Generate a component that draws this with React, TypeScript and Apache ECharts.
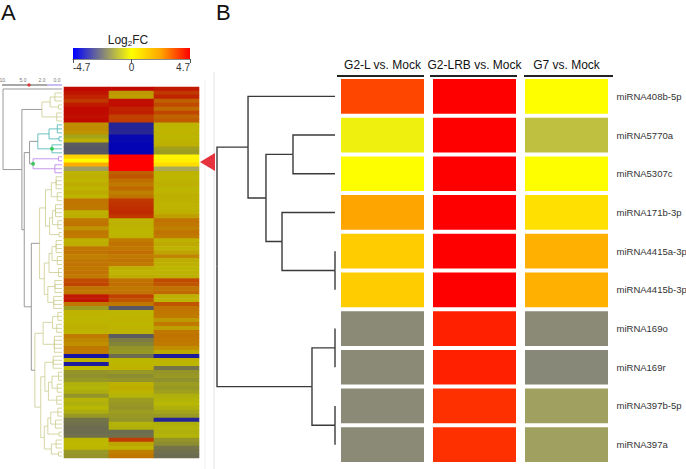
import React, { useEffect, useRef } from "react";
import * as echarts from "echarts";

// ---------------- Panel A data (Log2FC, 3 comparisons, rows top->bottom) ----------------
const A_COLUMNS = ["G2-L", "G2-LRB", "G7"];
const A_COL1 = [
  4.5, 4.3, 4.0, 3.6, 4.2, 4.5, 4.5, 4.4, 4.5, 1.5,
  1.6, 1.4, -0.6, 0.4, -2.4, -2.5, -2.5, 1.2, 0.1, 2.2,
  -1.8, 0.3, 0.4, 0.3, 0.5, 0.3, 0.6, 0.3, 2.4, 2.3,
  2.3, 0.4, 0.5, 2.3, 2.4, 1.4, 2.3, 2.2, 0.4, 0.5,
  2.3, 2.4, 2.0, 2.3, 2.4, 2.3, 2.4, 2.2, 3.2, 3.3,
  2.4, 2.3, 4.2, 4.3, 2.3, -0.8, 0.3, 0.3, 0.2, 0.3,
  0.4, 0.3, 2.2, 1.8, 1.5, 2.3, 2.2, -4.2, 0.3, -4.0,
  0.1, -1.0, -1.1, -0.9, -0.3, -0.2, -0.4, -1.0, -0.2, -0.3,
  -0.1, -0.4, -0.9, -1.8, -1.9, -2.0, -2.0, -1.9, 0.2, 0.1,
  0.2, -0.9, -1.0,
];
const A_COL2 = [
  4.5, 1.2, 1.0, 4.4, 4.4, 4.0, 4.1, 3.4, 3.5, -3.8,
  -3.8, -3.7, -4.5, -4.5, -4.6, -4.6, -4.6, 4.7, 4.7, 4.7,
  4.7, 2.8, 3.0, 2.5, 2.2, 2.6, 2.0, 2.4, 3.6, 3.7,
  3.8, 3.9, 3.6, 0.3, 0.4, 0.3, 0.2, 0.3, 2.2, 2.4,
  2.3, 2.5, 2.2, 2.4, 2.2, 0.4, 0.3, 0.5, 2.4, 2.5,
  2.3, 2.4, 3.4, 3.0, 2.3, -2.5, 0.2, 0.3, 0.3, 0.2,
  0.3, 0.3, -2.4, -1.6, -1.4, -1.0, -0.9, -2.0, 0.2, 0.2,
  0.3, -0.9, -1.2, -1.0, 0.4, 0.5, 0.3, -0.2, -0.8, -0.9,
  -1.0, -0.8, -0.9, -1.0, -0.2, -0.3, -2.0, -1.9, 3.5, 0.8,
  0.3, 2.0, 2.3,
];
const A_COL3 = [
  4.2, 3.6, 4.0, 2.8, 3.2, 2.6, 3.3, 2.7, 2.9, 0.3,
  0.2, 0.3, 0.2, 0.3, 0.4, -0.7, -0.8, 0.3, 0.4, 0.9,
  -1.6, 0.3, 0.2, 0.3, 0.4, 0.2, 0.3, 0.4, 0.4, 0.3,
  0.3, 0.4, 1.0, 2.4, 2.3, 2.0, 2.4, 2.2, 0.4, 0.6,
  0.3, 0.8, 1.8, 0.5, 0.4, 0.2, 0.3, 0.4, 3.2, 3.0,
  2.4, 2.6, 0.4, 0.3, 3.0, 2.4, 2.3, 2.2, 1.2, 2.2,
  1.0, 2.3, 2.4, 2.3, 2.2, 1.5, 0.6, -4.0, 0.3, 0.2,
  -1.8, -1.0, -0.9, -1.1, -0.8, -0.9, -0.7, -0.3, -0.2, -0.1,
  -0.3, -0.6, -0.9, -3.8, -0.3, -0.2, -0.3, -0.2, -1.0, -1.2,
  -1.8, -1.9, -2.0,
];
const A_HIGHLIGHT_ROWS = [17, 18, 19, 20];

// Panel A dendrogram: [node, children (row index or node), height, colour key]
const A_TREE: [string, (string | number)[], number, string][] = [
  ["g0", [1, 2, 3], 1.2, "k"],
  ["g1", [4, 5], 0.6, "k"],
  ["g2", [6, 7, 8], 0.9, "k"],
  ["C0a", ["g0", "g1"], 2.0, "k"],
  ["C0", ["C0a", "g2"], 3.4, "k"],
  ["t0", [9, 10, 11], 0.8, "t"],
  ["t1", [12, 13], 0.5, "t"],
  ["t2", [14, 15, 16], 1.7, "t"],
  ["t01", ["t0", "t1"], 2.2, "t"],
  ["C1", ["t01", "t2"], 4.1, "t"],
  ["p0", [17, 18], 0.6, "p"],
  ["p1", [19, 20, 21], 1.2, "p"],
  ["C2", ["p0", "p1"], 4.9, "p"],
  ["Ntp", ["C1", "C2"], 5.5, "g"],
  ["k0", [22, 23, 24, 25], 1.0, "k"],
  ["k1", [26, 27, 28], 0.8, "k"],
  ["k2", [29, 30, 31, 32], 1.1, "k"],
  ["k3", [33, 34, 35], 0.7, "k"],
  ["k4", [36, 37], 0.5, "k"],
  ["k5", [38, 39, 40, 41], 1.0, "k"],
  ["k6", [42, 43, 44], 0.8, "k"],
  ["k7", [45, 46, 47], 0.6, "k"],
  ["k8", [48, 49, 50, 51], 1.2, "k"],
  ["k9", [52, 53, 54, 55], 1.4, "k"],
  ["k01", ["k0", "k1"], 1.8, "k"],
  ["k23", ["k2", "k3"], 1.6, "k"],
  ["k234", ["k23", "k4"], 2.1, "k"],
  ["C3a", ["k01", "k234"], 2.8, "k"],
  ["k56", ["k5", "k6"], 1.7, "k"],
  ["k567", ["k56", "k7"], 2.2, "k"],
  ["k89", ["k8", "k9"], 2.4, "k"],
  ["C3b", ["k567", "k89"], 3.0, "k"],
  ["C3", ["C3a", "C3b"], 3.8, "k"],
  ["m0", [56, 57, 58], 0.7, "k"],
  ["m1", [59, 60, 61], 0.9, "k"],
  ["m2", [62, 63, 64, 65, 66], 1.3, "k"],
  ["m3", [67, 68, 69, 70], 1.5, "k"],
  ["m4", [71, 72, 73], 0.6, "k"],
  ["m5", [74, 75, 76], 0.8, "k"],
  ["m6", [77, 78, 79], 0.9, "k"],
  ["m7", [80, 81, 82], 0.7, "k"],
  ["m8", [83, 84, 85], 1.1, "k"],
  ["m9", [86, 87], 0.5, "k"],
  ["m10", [88, 89, 90], 1.0, "k"],
  ["m11", [91, 92], 0.6, "k"],
  ["m01", ["m0", "m1"], 1.6, "k"],
  ["C4a", ["m01", "m2"], 3.2, "k"],
  ["m45", ["m4", "m5"], 1.7, "k"],
  ["m456", ["m45", "m6"], 2.3, "k"],
  ["m3456", ["m3", "m456"], 2.9, "k"],
  ["m78", ["m7", "m8"], 1.9, "k"],
  ["m789", ["m78", "m9"], 2.4, "k"],
  ["m1011", ["m10", "m11"], 1.8, "k"],
  ["m7_11", ["m789", "m1011"], 3.0, "k"],
  ["C4b", ["m3456", "m7_11"], 3.6, "k"],
  ["C4", ["C4a", "C4b"], 4.6, "k"],
  ["Nbig", ["C3", "C4"], 5.2, "g"],
  ["N24", ["Ntp", "Nbig"], 6.4, "g"],
  ["N22", ["C0", "N24"], 6.8, "g"],
  ["root", [0, "N22"], 10, "g"],
];
const A_TREE_MARKS = ["C2", "t2"];
const A_SCALE_LABELS = ["10.", "5.0", "2.0", "0.0"];

// ---------------- Panel B data ----------------
const B_COLUMNS = ["G2-L vs. Mock", "G2-LRB vs. Mock", "G7 vs. Mock"];
const B_MIRNAS = [
  "miRNA408b-5p", "miRNA5770a", "miRNA5307c", "miRNA171b-3p", "miRNA4415a-3p",
  "miRNA4415b-3p", "miRNA169o", "miRNA169r", "miRNA397b-5p", "miRNA397a",
];
const B_G2L = [3.7, -0.28, 0.02, 2.35, 1.33, 1.33, -2.16, -2.16, -2.16, -2.16];
const B_G2LRB = [4.7, 4.7, 4.7, 4.7, 4.7, 4.7, 4.24, 4.24, 4.02, 4.02];
const B_G7 = [0.02, -1.17, 0.02, 0.8, 2.06, 2.06, -2.16, -2.2, -1.76, -1.76];
const B_TREE: [string, (string | number)[], number, string][] = [
  ["b56", [4, 5], 0, "d"],
  ["b78", [6, 7], 0, "d"],
  ["b910", [8, 9], 0, "d"],
  ["b23", [1, 2], 0.356, "d"],
  ["b4_56", [3, "b56"], 0.449, "d"],
  ["b2_6", ["b23", "b4_56"], 0.585, "d"],
  ["b1_6", [0, "b2_6"], 0.737, "d"],
  ["b7_10", ["b78", "b910"], 0.195, "d"],
  ["root", ["b1_6", "b7_10"], 1, "d"],
];

const LOG2FC_MIN = -4.7;
const LOG2FC_MAX = 4.7;
const BRIGHT = ["#0000ff", "#808080", "#ffff00", "#ffa500", "#ff0000"];
const DIM = ["#0000b8", "#5e5e5e", "#bcbc00", "#c07600", "#c00000"];
const TREE_COLORS: Record<string, string> = {
  k: "#cbcb8e",
  t: "#45b3b3",
  p: "#b67ee8",
  g: "#808080",
  d: "#3a3a3a",
};

const FONT = "'Liberation Sans', Arial, Helvetica, sans-serif";

function buildLinks(tree: [string, (string | number)[], number, string][]) {
  const map = new Map<string, [string, (string | number)[], number, string]>();
  tree.forEach((n) => map.set(n[0], n));
  const nodeY = (name: string): number => {
    const n = map.get(name)!;
    const ys = n[1].map((c) => yOf(c));
    return (Math.min(...ys) + Math.max(...ys)) / 2;
  };
  const yOf = (c: string | number): number => (typeof c === "number" ? c : nodeY(c));
  const hOf = (c: string | number): number => (typeof c === "number" ? 0 : map.get(c)![2]);
  const links: { value: number[]; color: string }[] = [];
  tree.forEach((n) => {
    const yP = nodeY(n[0]);
    n[1].forEach((c) => {
      links.push({ value: [n[2], yOf(c), hOf(c), yP], color: TREE_COLORS[n[3]] });
    });
  });
  return { links, nodePos: (name: string) => [map.get(name)![2], nodeY(name)] };
}

function buildOption() {
  const aRows = A_COL1.map((_, i) => String(i));
  const aCols = [A_COL1, A_COL2, A_COL3];
  const aDim: number[][] = [];
  const aHi: number[][] = [];
  aCols.forEach((col, ci) =>
    col.forEach((v, ri) => {
      (A_HIGHLIGHT_ROWS.includes(ri) ? aHi : aDim).push([ci, ri, v]);
    })
  );
  const bData: number[][] = [];
  [B_G2L, B_G2LRB, B_G7].forEach((col, ci) => col.forEach((v, ri) => bData.push([ci, ri, v])));

  const aTree = buildLinks(A_TREE);
  const bTree = buildLinks(B_TREE);

  const cellRender = (gapX: number, gapY: number) => (params: any, api: any) => {
    const c = api.coord([api.value(0), api.value(1)]);
    const s = api.size([1, 1]);
    const w = s[0] - gapX;
    const h = s[1] - gapY;
    return {
      type: "rect",
      shape: { x: c[0] - w / 2, y: c[1] - h / 2, width: w, height: h },
      style: { fill: api.visual("color") },
    };
  };
  const linkRender = (links: { value: number[]; color: string }[], lw: number) => (params: any, api: any) => {
    const p1 = api.coord([api.value(2), api.value(1)]);
    const p2 = api.coord([api.value(0), api.value(1)]);
    const p3 = api.coord([api.value(0), api.value(3)]);
    return {
      type: "polyline",
      shape: { points: [p1, p2, p3] },
      style: { stroke: links[params.dataIndex].color, lineWidth: lw, fill: "none" },
    };
  };

  const gradStops = BRIGHT.map((c, i) => ({ offset: i / (BRIGHT.length - 1), color: c }));

  const hidden = { show: false };
  const g = (left: number, top: number, width: number, height: number) => ({
    left, top, width, height, containLabel: false, outerBoundsMode: "none",
  });

  return {
    animation: false,
    backgroundColor: "#ffffff",
    textStyle: { fontFamily: FONT },
    grid: [
      g(64, 87, 135, 371), // A heatmap
      g(3, 87, 59, 371), // A dendrogram
      g(73, 48, 117, 11), // colour key
      g(336.5, 77, 276, 387), // B heatmap
      g(217, 77, 118, 387), // B dendrogram
    ],
    xAxis: [
      { gridIndex: 0, type: "category", data: A_COLUMNS, ...hidden },
      { gridIndex: 1, type: "value", min: 0, max: 10, inverse: true, ...hidden },
      {
        gridIndex: 2, type: "value", min: LOG2FC_MIN, max: LOG2FC_MAX, interval: 4.7, position: "bottom",
        axisLine: { show: true, lineStyle: { color: "#8a8a8a", width: 1 } },
        axisTick: { show: true, length: 4, lineStyle: { color: "#555" } },
        splitLine: { show: false },
        axisLabel: {
          fontSize: 10, color: "#333", margin: 3, fontFamily: FONT,
          alignMinLabel: "left", alignMaxLabel: "right", hideOverlap: false,
        },
      },
      {
        gridIndex: 3, type: "category", data: B_COLUMNS, position: "top",
        axisLine: hidden, axisTick: hidden,
        axisLabel: { fontSize: 12, color: "#111", margin: 6, fontFamily: FONT, interval: 0 },
      },
      { gridIndex: 4, type: "value", min: 0, max: 1, inverse: true, ...hidden },
    ],
    yAxis: [
      { gridIndex: 0, type: "category", data: aRows, inverse: true, ...hidden },
      { gridIndex: 1, type: "value", min: -0.5, max: A_COL1.length - 0.5, inverse: true, ...hidden },
      { gridIndex: 2, type: "value", min: 0, max: 1, ...hidden },
      {
        gridIndex: 3, type: "category", data: B_MIRNAS, inverse: true, position: "right",
        axisLine: hidden, axisTick: hidden,
        axisLabel: {
          fontSize: 9.5, color: "#333", margin: 4, fontFamily: FONT, interval: 0,
          overflow: "none", width: 200,
        },
      },
      { gridIndex: 4, type: "value", min: -0.5, max: B_MIRNAS.length - 0.5, inverse: true, ...hidden },
    ],
    visualMap: [
      {
        type: "continuous", show: false, min: LOG2FC_MIN, max: LOG2FC_MAX, dimension: 2,
        seriesIndex: [0], inRange: { color: DIM },
      },
      {
        type: "continuous", show: false, min: LOG2FC_MIN, max: LOG2FC_MAX, dimension: 2,
        seriesIndex: [1, 5], inRange: { color: BRIGHT },
      },
    ],
    series: [
      {
        type: "custom", xAxisIndex: 0, yAxisIndex: 0, data: aDim,
        renderItem: cellRender(-0.6, -0.6),
      },
      {
        type: "custom", xAxisIndex: 0, yAxisIndex: 0, data: aHi, z: 3,
        renderItem: cellRender(-0.6, -0.6),
      },
      {
        type: "custom", xAxisIndex: 1, yAxisIndex: 1,
        data: aTree.links.map((l) => l.value),
        renderItem: linkRender(aTree.links, 0.8),
      },
      {
        type: "scatter", xAxisIndex: 1, yAxisIndex: 1, z: 5,
        symbolSize: 4, itemStyle: { color: "#1ec83c" },
        data: A_TREE_MARKS.map((n) => aTree.nodePos(n)),
      },
      {
        type: "custom", xAxisIndex: 2, yAxisIndex: 2,
        data: [[LOG2FC_MIN, 0, LOG2FC_MAX, 1]],
        renderItem: (params: any, api: any) => {
          const p0 = api.coord([api.value(0), api.value(1)]);
          const p1 = api.coord([api.value(2), api.value(3)]);
          return {
            type: "rect",
            shape: { x: p0[0], y: p1[1], width: p1[0] - p0[0], height: p0[1] - p1[1] },
            style: { fill: new echarts.graphic.LinearGradient(0, 0, 1, 0, gradStops) },
          };
        },
      },
      {
        type: "custom", xAxisIndex: 3, yAxisIndex: 3, data: bData,
        renderItem: cellRender(9, 4),
      },
      {
        type: "custom", xAxisIndex: 4, yAxisIndex: 4,
        data: bTree.links.map((l) => l.value),
        renderItem: linkRender(bTree.links, 1.4),
      },
    ],
    graphic: [
      { type: "text", left: 1, top: 1, style: { text: "A", fontSize: 22, fill: "#111", fontFamily: FONT } },
      { type: "text", left: 216, top: 1, style: { text: "B", fontSize: 22, fill: "#111", fontFamily: FONT } },
      {
        type: "text", x: 128, y: 40,
        style: {
          text: "{a|Log}{b|2}{a|FC}", align: "center", verticalAlign: "middle",
          rich: {
            a: { fontSize: 12, fill: "#222", fontFamily: FONT },
            b: { fontSize: 8, fill: "#222", fontFamily: FONT, padding: [7, 0, 0, 0] },
          },
        },
      },
      // dendrogram scale bar (panel A)
      ...A_SCALE_LABELS.map((t, i) => ({
        type: "text", x: [3, 23, 42, 57][i], y: 80,
        style: { text: t, fontSize: 5, fill: "#777", fontFamily: FONT, align: "center", verticalAlign: "middle" },
      })),
      { type: "line", shape: { x1: 2, y1: 85, x2: 47, y2: 85 }, style: { stroke: "#a8a8a8", lineWidth: 2 } },
      { type: "line", shape: { x1: 47, y1: 85, x2: 62, y2: 85 }, style: { stroke: "#cbbcf0", lineWidth: 2 } },
      { type: "circle", shape: { cx: 29, cy: 85, r: 1.6 }, style: { fill: "#e03030" } },
      // separators
      { type: "line", shape: { x1: 205, y1: 80, x2: 205, y2: 469 }, style: { stroke: "#f0f0f0", lineWidth: 1 } },
      { type: "line", shape: { x1: 214, y1: 72, x2: 214, y2: 469 }, style: { stroke: "#e2e2e2", lineWidth: 1 } },
      // header underlines (panel B)
      { type: "line", shape: { x1: 337, y1: 76, x2: 424, y2: 76 }, style: { stroke: "#222", lineWidth: 2 } },
      { type: "line", shape: { x1: 430, y1: 76, x2: 517, y2: 76 }, style: { stroke: "#222", lineWidth: 2 } },
      { type: "line", shape: { x1: 524, y1: 76, x2: 613, y2: 76 }, style: { stroke: "#222", lineWidth: 2 } },
      // red pointer triangle
      {
        type: "polygon", z: 10,
        shape: { points: [[200, 162], [215, 153], [215, 171]] },
        style: { fill: "#e5323c" },
      },
    ],
  };
}

export default function App() {
  const ref = useRef<HTMLDivElement>(null);
  useEffect(() => {
    if (!ref.current) return;
    const chart = echarts.init(ref.current, undefined, { renderer: "svg" });
    chart.setOption(buildOption() as any);
    return () => chart.dispose();
  }, []);
  return (
    <div
      ref={ref}
      style={{ position: "fixed", left: 0, top: 0, width: 686, height: 469, background: "#fff" }}
    />
  );
}
